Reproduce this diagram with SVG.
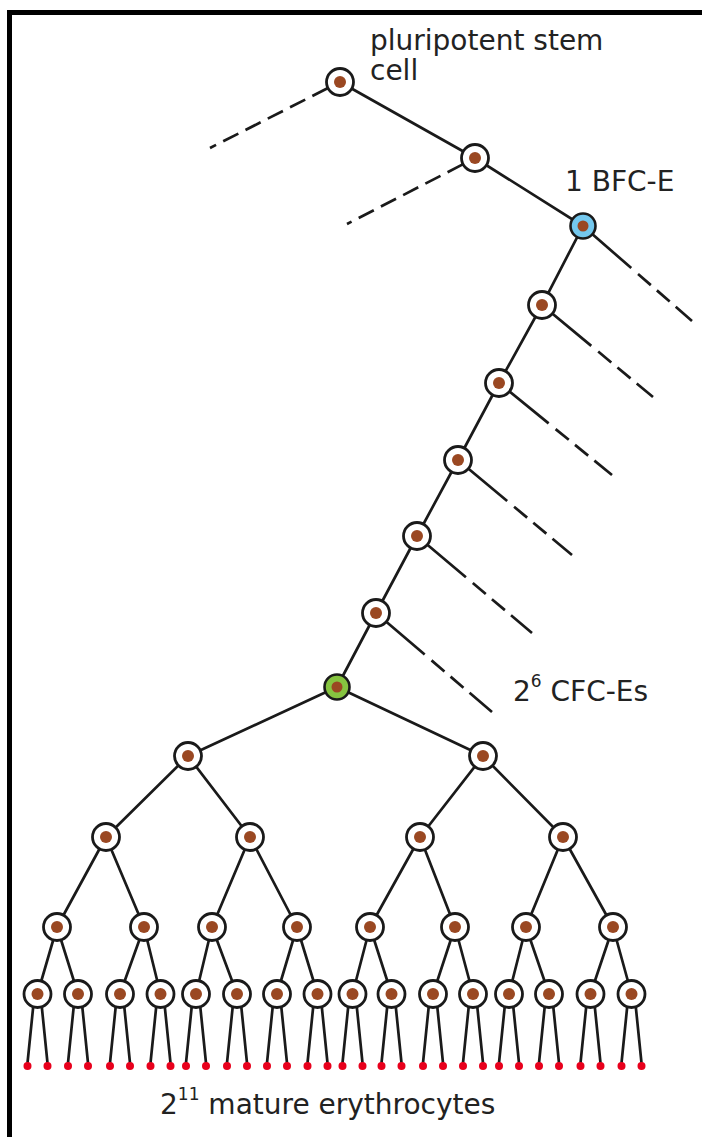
<svg xmlns="http://www.w3.org/2000/svg" width="702" height="1137" viewBox="0 0 702 1137">
<style>
.e{stroke:#1a1a1a;stroke-width:2.7;fill:none;stroke-linecap:butt}
.d{stroke:#1a1a1a;stroke-width:2.7;fill:none;stroke-dasharray:17 8}
.r{stroke:#1a1a1a;stroke-width:2.7;fill:none;stroke-dasharray:64 9 17 8 17 8 60 1000}
.c{fill:#fff;stroke:#1a1a1a;stroke-width:2.8}
.n{fill:#9a4822}
.rb{fill:#e8001c}
.t{font-family:"DejaVu Sans",sans-serif;font-size:28px;fill:#222}
.s{font-family:"DejaVu Sans",sans-serif;font-size:17px;fill:#222}
</style>
<defs>
<g id="cell"><circle class="c" r="13.5"/><circle class="n" r="6"/></g>
</defs>
<rect x="0" y="0" width="702" height="1137" fill="#fff"/>
<rect x="7" y="10" width="695" height="5" fill="#000"/>
<rect x="7" y="10" width="5" height="1127" fill="#000"/>

<g id="connectors">
<polyline class="e" points="340,82 475,158 583,226 542,305 499,383 458,460 417,536 376,613 337,687"/>
<line class="d" x1="327.5" y1="88.3" x2="210" y2="148"/>
<line class="d" x1="462.7" y1="164.4" x2="347" y2="224"/>
<line class="r" x1="583" y1="226" x2="692" y2="321"/>
<line class="r" x1="542" y1="305" x2="653" y2="397"/>
<line class="r" x1="499" y1="383" x2="612" y2="475"/>
<line class="r" x1="458" y1="460" x2="572" y2="555"/>
<line class="r" x1="417" y1="536" x2="532" y2="633"/>
<line class="r" x1="376" y1="613" x2="492" y2="712"/>
<path class="e" d="M337,687L188,756M337,687L483,756
M188,756L106,837M188,756L250,837M483,756L420,837M483,756L563,837
M106,837L57,927M106,837L144,927M250,837L212,927M250,837L297,927
M420,837L370,927M420,837L455,927M563,837L526,927M563,837L613,927
M57,927L37.5,994M57,927L78,994M144,927L120,994M144,927L160.5,994
M212,927L196,994M212,927L237,994M297,927L277,994M297,927L317.5,994
M370,927L352.5,994M370,927L391.5,994M455,927L433,994M455,927L473,994
M526,927L509,994M526,927L549,994M613,927L590.5,994M613,927L631.5,994"/>
<path class="e" d="M34.5,994L27.5,1063M40.5,994L47.5,1063
M75,994L68,1063M81,994L88,1063
M117,994L110,1063M123,994L130,1063
M157.5,994L150.5,1063M163.5,994L170.5,1063
M193,994L186,1063M199,994L206,1063
M234,994L227,1063M240,994L247,1063
M274,994L267,1063M280,994L287,1063
M314.5,994L307.5,1063M320.5,994L327.5,1063
M349.5,994L342.5,1063M355.5,994L362.5,1063
M388.5,994L381.5,1063M394.5,994L401.5,1063
M430,994L423,1063M436,994L443,1063
M470,994L463,1063M476,994L483,1063
M506,994L499,1063M512,994L519,1063
M546,994L539,1063M552,994L559,1063
M587.5,994L580.5,1063M593.5,994L600.5,1063
M628.5,994L621.5,1063M634.5,994L641.5,1063"/>
</g>

<g id="stem"><use href="#cell" x="340" y="82"/></g>
<g id="n2"><use href="#cell" x="475" y="158"/></g>
<g id="bfce"><circle cx="583" cy="226" r="12.5" fill="#74c8ee" stroke="#1a1a1a" stroke-width="2.6"/><circle class="n" cx="583" cy="226" r="5.5"/></g>
<g id="c1"><use href="#cell" x="542" y="305"/></g>
<g id="c2"><use href="#cell" x="499" y="383"/></g>
<g id="c3"><use href="#cell" x="458" y="460"/></g>
<g id="c4"><use href="#cell" x="417" y="536"/></g>
<g id="c5"><use href="#cell" x="376" y="613"/></g>
<g id="cfce"><circle cx="337" cy="687" r="12.5" fill="#86c440" stroke="#1a1a1a" stroke-width="2.6"/><circle class="n" cx="337" cy="687" r="5.5"/></g>

<g id="level1">
<use href="#cell" x="188" y="756"/><use href="#cell" x="483" y="756"/>
</g>
<g id="level2">
<use href="#cell" x="106" y="837"/><use href="#cell" x="250" y="837"/><use href="#cell" x="420" y="837"/><use href="#cell" x="563" y="837"/>
</g>
<g id="level3">
<use href="#cell" x="57" y="927"/><use href="#cell" x="144" y="927"/><use href="#cell" x="212" y="927"/><use href="#cell" x="297" y="927"/>
<use href="#cell" x="370" y="927"/><use href="#cell" x="455" y="927"/><use href="#cell" x="526" y="927"/><use href="#cell" x="613" y="927"/>
</g>
<g id="level4">
<use href="#cell" x="37.5" y="994"/><use href="#cell" x="78" y="994"/><use href="#cell" x="120" y="994"/><use href="#cell" x="160.5" y="994"/>
<use href="#cell" x="196" y="994"/><use href="#cell" x="237" y="994"/><use href="#cell" x="277" y="994"/><use href="#cell" x="317.5" y="994"/>
<use href="#cell" x="352.5" y="994"/><use href="#cell" x="391.5" y="994"/><use href="#cell" x="433" y="994"/><use href="#cell" x="473" y="994"/>
<use href="#cell" x="509" y="994"/><use href="#cell" x="549" y="994"/><use href="#cell" x="590.5" y="994"/><use href="#cell" x="631.5" y="994"/>
</g>
<g id="erythrocytes">
<circle class="rb" cx="27.5" cy="1066" r="4"/><circle class="rb" cx="47.5" cy="1066" r="4"/>
<circle class="rb" cx="68" cy="1066" r="4"/><circle class="rb" cx="88" cy="1066" r="4"/>
<circle class="rb" cx="110" cy="1066" r="4"/><circle class="rb" cx="130" cy="1066" r="4"/>
<circle class="rb" cx="150.5" cy="1066" r="4"/><circle class="rb" cx="170.5" cy="1066" r="4"/>
<circle class="rb" cx="186" cy="1066" r="4"/><circle class="rb" cx="206" cy="1066" r="4"/>
<circle class="rb" cx="227" cy="1066" r="4"/><circle class="rb" cx="247" cy="1066" r="4"/>
<circle class="rb" cx="267" cy="1066" r="4"/><circle class="rb" cx="287" cy="1066" r="4"/>
<circle class="rb" cx="307.5" cy="1066" r="4"/><circle class="rb" cx="327.5" cy="1066" r="4"/>
<circle class="rb" cx="342.5" cy="1066" r="4"/><circle class="rb" cx="362.5" cy="1066" r="4"/>
<circle class="rb" cx="381.5" cy="1066" r="4"/><circle class="rb" cx="401.5" cy="1066" r="4"/>
<circle class="rb" cx="423" cy="1066" r="4"/><circle class="rb" cx="443" cy="1066" r="4"/>
<circle class="rb" cx="463" cy="1066" r="4"/><circle class="rb" cx="483" cy="1066" r="4"/>
<circle class="rb" cx="499" cy="1066" r="4"/><circle class="rb" cx="519" cy="1066" r="4"/>
<circle class="rb" cx="539" cy="1066" r="4"/><circle class="rb" cx="559" cy="1066" r="4"/>
<circle class="rb" cx="580.5" cy="1066" r="4"/><circle class="rb" cx="600.5" cy="1066" r="4"/>
<circle class="rb" cx="621.5" cy="1066" r="4"/><circle class="rb" cx="641.5" cy="1066" r="4"/>
</g>

<g id="labels">
<text class="t" x="370" y="50">pluripotent stem</text>
<text class="t" x="370" y="80">cell</text>
<text class="t" x="565" y="191">1 BFC-E</text>
<text class="t" x="513" y="701">2<tspan class="s" dy="-14">6</tspan><tspan dy="14"> CFC-Es</tspan></text>
<text class="t" x="160" y="1114">2<tspan class="s" dy="-14">11</tspan><tspan dy="14"> mature erythrocytes</tspan></text>
</g>
</svg>
